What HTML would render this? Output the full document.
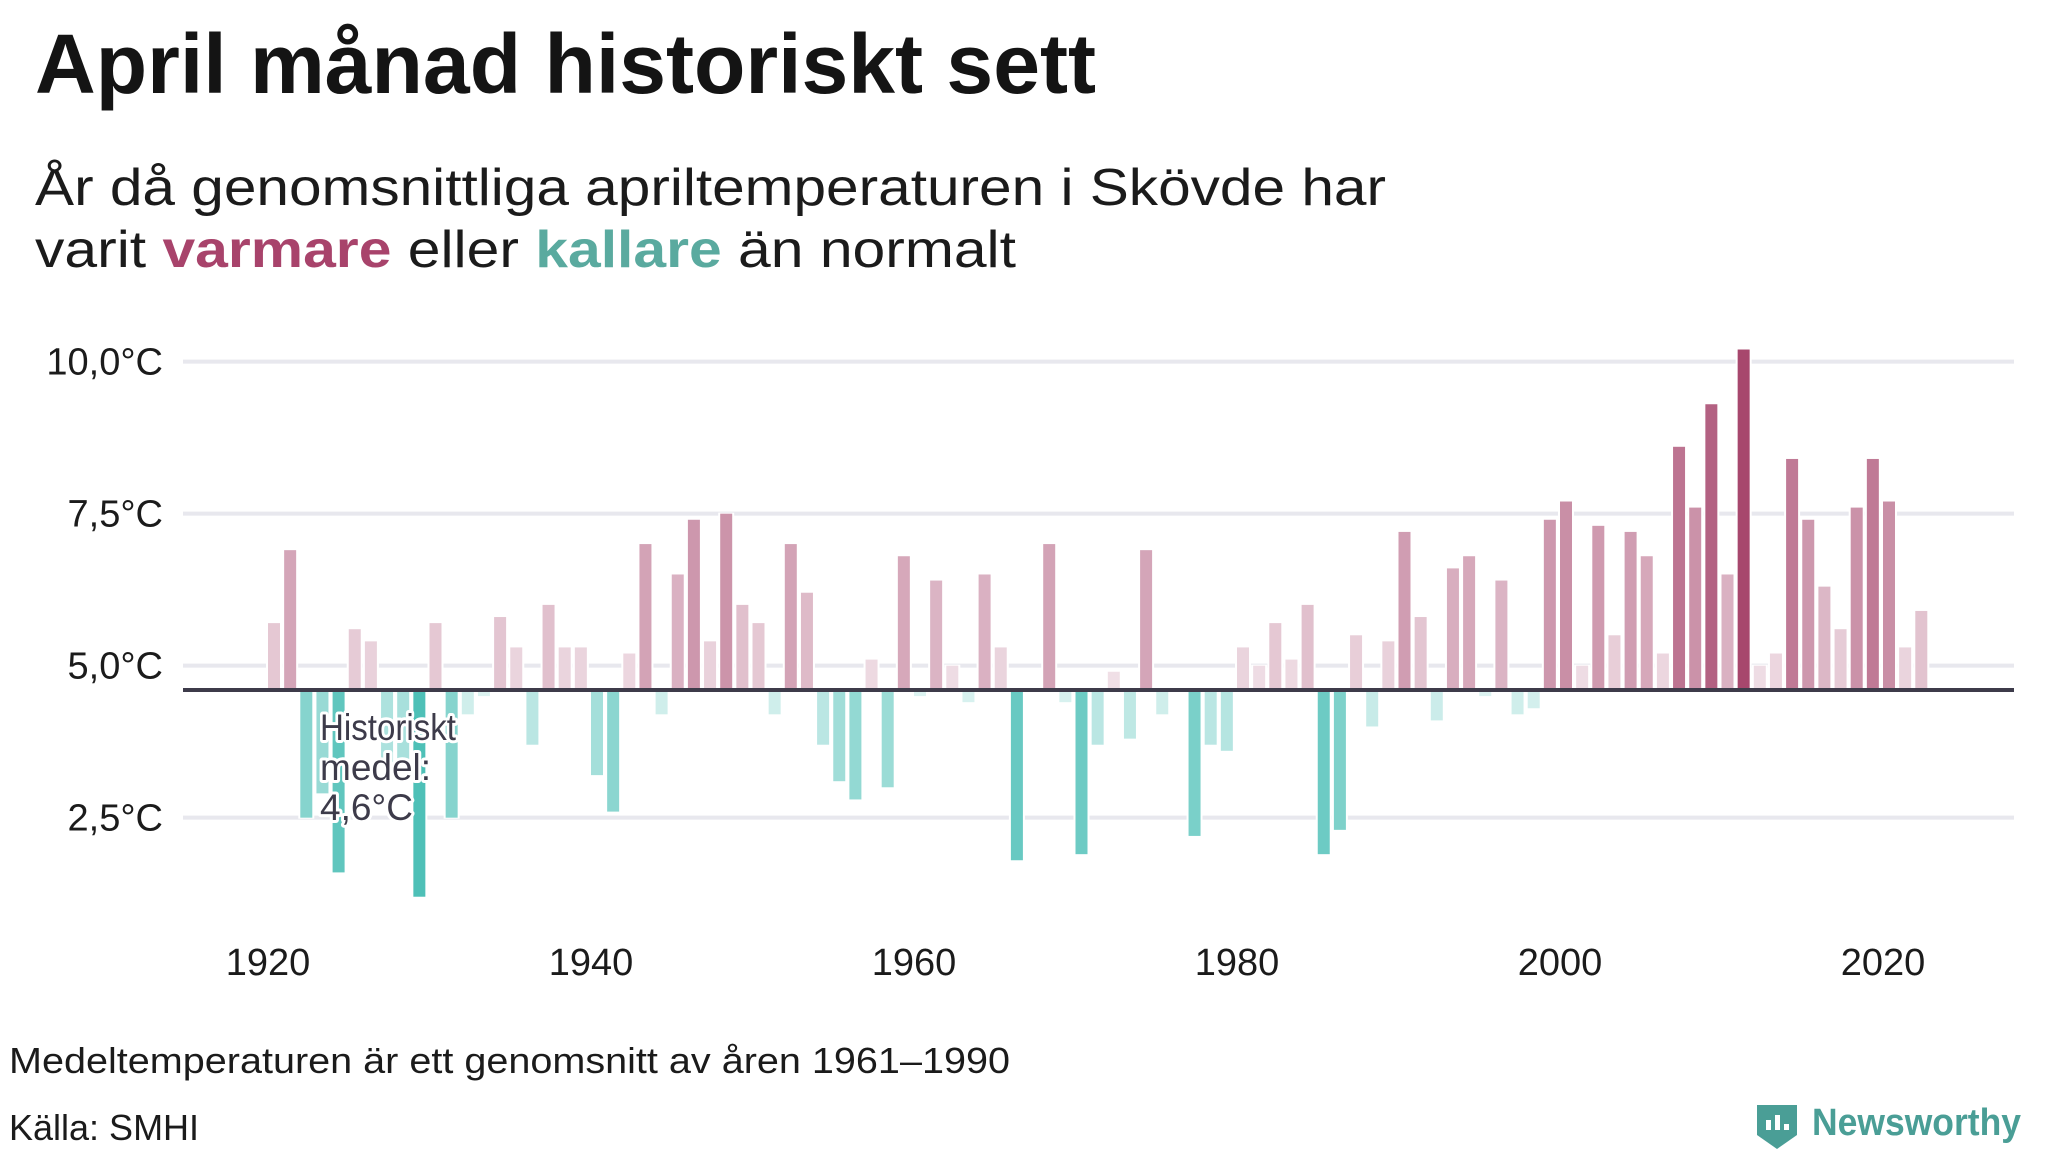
<!DOCTYPE html>
<html><head><meta charset="utf-8"><style>
html,body{margin:0;padding:0;background:#fff;}
svg{display:block;font-family:"Liberation Sans",sans-serif;}
</style></head><body>
<svg id="chart" width="2048" height="1152" viewBox="0 0 2048 1152" xmlns="http://www.w3.org/2000/svg">
<text x="35" y="93" font-size="84" font-weight="bold" fill="#141414" textLength="1061" lengthAdjust="spacingAndGlyphs">April månad historiskt sett</text>
<text x="35" y="205" font-size="52" fill="#1b1b1b" textLength="1351" lengthAdjust="spacingAndGlyphs">År då genomsnittliga apriltemperaturen i Skövde har</text>
<text x="35" y="267" font-size="52" fill="#1b1b1b" textLength="981" lengthAdjust="spacingAndGlyphs">varit <tspan font-weight="bold" fill="#a8436b">varmare</tspan> eller <tspan font-weight="bold" fill="#5aaa9f">kallare</tspan> än normalt</text>
<g id="grid"></g>
<g id="bars"></g>
<g id="axes"></g>
<text x="9" y="1073" font-size="36" fill="#1b1b1b" textLength="1001" lengthAdjust="spacingAndGlyphs">Medeltemperaturen är ett genomsnitt av åren 1961–1990</text>
<text x="9" y="1140" font-size="36" fill="#1b1b1b">Källa: SMHI</text>
<g>
<path d="M1757 1105 h40 v30 l-20 14 l-20 -14 z" fill="#4a9e96"/>
<rect x="1766" y="1120" width="5" height="10" fill="#fff"/><rect x="1775" y="1115" width="5" height="15" fill="#fff"/><rect x="1784" y="1124" width="5" height="6" fill="#fff"/>
<text x="1812" y="1135" font-size="38" font-weight="bold" fill="#4a9e96" textLength="209" lengthAdjust="spacingAndGlyphs">Newsworthy</text>
</g>
</svg>
<script>
const years = [];
for (let y = 1920; y <= 2022; y++) years.push(y);
const temps = [5.7,6.9,2.5,2.9,1.6,5.6,5.4,3.4,3.3,1.2,5.7,2.5,4.2,4.5,5.8,5.3,3.7,6.0,5.3,5.3,
3.2,2.6,5.2,7.0,4.2,6.5,7.4,5.4,7.5,6.0,5.7,4.2,7.0,6.2,3.7,3.1,2.8,5.1,3.0,6.8,
4.5,6.4,5.0,4.4,6.5,5.3,1.8,4.6,7.0,4.4,1.9,3.7,4.9,3.8,6.9,4.2,4.6,2.2,3.7,3.6,
5.3,5.0,5.7,5.1,6.0,1.9,2.3,5.5,4.0,5.4,7.2,5.8,4.1,6.6,6.8,4.5,6.4,4.2,4.3,7.4,
7.7,5.0,7.3,5.5,7.2,6.8,5.2,8.6,7.6,9.3,6.5,10.2,5.0,5.2,8.4,7.4,6.3,5.6,7.6,8.4,
7.7,5.3,5.9];
const mean = [4.6];
const yTicks = [2.5, 5.0, 7.5, 10.0];
const yTickLabels = ["2,5°C","5,0°C","7,5°C","10,0°C"];
const xTicks = [1920,1940,1960,1980,2000,2020];

const NS = "http://www.w3.org/2000/svg";
const xS = y => 274 + (y - 1920) * 16.15;
const yS = v => 690 - (v - 4.6) * 60.8;
function mk(tag, attrs, parent) {
  const e = document.createElementNS(NS, tag);
  for (const k in attrs) e.setAttribute(k, attrs[k]);
  parent.appendChild(e);
  return e;
}
const grid = document.getElementById('grid'), bars = document.getElementById('bars'), axes = document.getElementById('axes');
yTicks.forEach((t, i) => {
  const l = mk('line', {x1:183, x2:2014, y1:yS(t), y2:yS(t), stroke:'#e8e8ee', 'stroke-width':4}, grid);
  
  
  const tx = mk('text', {x:163, y:yS(t)+13, 'text-anchor':'end', 'font-size':38, fill:'#1b1b1b'}, axes);
  tx.textContent = yTickLabels[i];
  
  
});
xTicks.forEach(t => {
  const tx = mk('text', {x:xS(t)-6, y:975, 'text-anchor':'middle', 'font-size':38, fill:'#1b1b1b'}, axes);
  tx.textContent = String(t);
  
  
});
years.forEach((yr, i) => {
  const v = temps[i];
  const d = v - mean[0];
  if (Math.abs(d) < 0.01) return;
  const top = Math.min(yS(v), yS(mean[0])), h = Math.abs(yS(v) - yS(mean[0]));
  let fill;
  if (d > 0) fill = 'rgba(163,63,103,' + Math.min(1, 0.12 + d * 0.15).toFixed(3) + ')';
  else fill = 'rgba(61,186,176,' + Math.min(0.95, 0.16 + (-d) * 0.22).toFixed(3) + ')';
  mk('rect', {x:xS(yr)-8, y:top-1, width:16, height:h+2, fill:'#fff'}, bars);
  const r = mk('rect', {x:xS(yr)-6, y:top, width:12, height:h, fill:fill}, bars);
  
  
});
const base = mk('line', {x1:183, x2:2014, y1:yS(mean[0]), y2:yS(mean[0]), stroke:'#3d3b4a', 'stroke-width':4}, axes);


const ann = mk('text', {x:320, y:740, 'font-size':37, fill:'#3d3b4a', stroke:'#fff', 'stroke-width':6, 'paint-order':'stroke', 'stroke-linejoin':'round'}, axes);


["Historiskt","medel:","4,6°C"].forEach((s, i) => {
  const ts = mk('tspan', {x:320, y:740 + i*40}, ann);
  if (i === 0) { ts.setAttribute('textLength', '136'); ts.setAttribute('lengthAdjust', 'spacingAndGlyphs'); }
  ts.textContent = s;
});
</script>
</body></html>
